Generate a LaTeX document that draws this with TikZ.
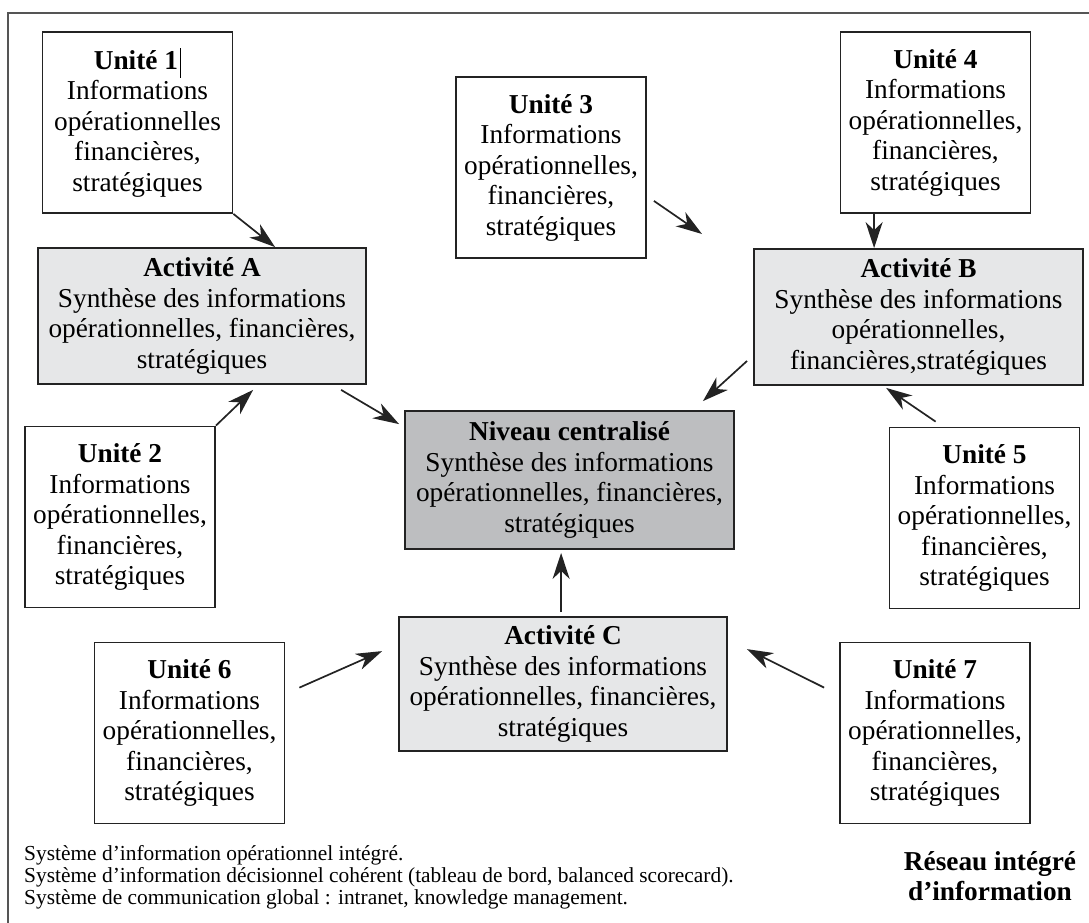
\documentclass[tikz,border=0pt]{standalone}
\usepackage{fontspec}
\setmainfont{Liberation Serif}
\usetikzlibrary{arrows.meta}
\definecolor{actfill}{RGB}{230,231,232}
\definecolor{ctrfill}{RGB}{189,190,192}
\definecolor{edgecol}{RGB}{35,35,35}
\definecolor{framecol}{RGB}{85,85,85}
\begin{document}
\begin{tikzpicture}[x=1pt,y=-1pt,
  box/.style={draw=edgecol, line width=1.8pt, align=center, inner sep=0pt,
    font=\fontsize{27.3}{30.5}\selectfont, text=black},
  unitbox/.style={box, fill=white, minimum width=190pt, minimum height=181pt},
  actbox/.style={box, fill=actfill, minimum width=328pt, minimum height=136pt},
  ctrbox/.style={box, fill=ctrfill, minimum width=329pt, minimum height=138pt},
  arr/.style={draw=edgecol, line width=1.7pt,
    -{Stealth[length=26pt,width=17pt,inset=8pt]}},
  legendline/.style={anchor=base west, inner sep=0pt, font=\fontsize{21.4}{22.5}\selectfont},
  titleline/.style={anchor=base, inner sep=0pt, font=\bfseries\fontsize{27.3}{30}\selectfont}
]
\clip (0,0) rectangle (1089,922);
% outer frame (runs off the right and bottom edges)
\draw[framecol, line width=2pt] (8,13) rectangle (1120,960);

% units
\node[unitbox] (u1) at (137.5,122.5) {\textbf{Unité 1}\kern2pt\rule[-0.3em]{1.2pt}{1.1em}\\Informations\\opérationnelles\\financières,\\stratégiques};
\node[unitbox] (u3) at (551,167.5) {\textbf{Unité 3}\\Informations\\opérationnelles,\\financières,\\stratégiques};
\node[unitbox] (u4) at (935.5,122.5) {\textbf{Unité 4}\\Informations\\opérationnelles,\\financières,\\stratégiques};
\node[unitbox] (u2) at (120,517) {\textbf{Unité 2}\\Informations\\opérationnelles,\\financières,\\stratégiques};
\node[unitbox] (u5) at (984.5,518) {\textbf{Unité 5}\\Informations\\opérationnelles,\\financières,\\stratégiques};
\node[unitbox] (u6) at (189.5,733) {\textbf{Unité 6}\\Informations\\opérationnelles,\\financières,\\stratégiques};
\node[unitbox] (u7) at (935,733) {\textbf{Unité 7}\\Informations\\opérationnelles,\\financières,\\stratégiques};

% activities
\node[actbox] (a) at (202,316) {\textbf{Activité A}\\Synthèse des informations\\opérationnelles, financières,\\stratégiques};
\node[actbox, minimum width=329pt] (b) at (918.5,317) {\textbf{Activité B}\\Synthèse des informations\\opérationnelles,\\financières,stratégiques};
\node[actbox, minimum height=134pt] (c) at (563,684) {\textbf{Activité C}\\Synthèse des informations\\opérationnelles, financières,\\stratégiques};

% central level
\node[ctrbox] (n) at (569.5,480) {\textbf{Niveau centralisé}\\Synthèse des informations\\opérationnelles, financières,\\stratégiques};

% connectors
\draw[arr] (u1.south east) -- ([xshift=238pt]a.north west);
\coordinate (u3tip) at (702,234);
\draw[arr] ([xshift=7pt,yshift=58pt]u3.south east) -- (u3tip);
\coordinate (bin) at ([xshift=121pt]b.north west);
\draw[arr] (bin |- u4.south) -- (bin);
\draw[arr] ([xshift=304pt,yshift=-5pt]a.south west) -- ([xshift=-5pt,yshift=-14pt]n.north west);
\draw[arr] (u2.north east) -- ([xshift=216pt,yshift=-5pt]a.south west);
\draw[arr] ([xshift=-6pt,yshift=25pt]b.south west) -- ([xshift=-32pt,yshift=9pt]n.north east);
\draw[arr] ([xshift=47pt,yshift=5pt]u5.north west) -- ([xshift=133pt,yshift=-2pt]b.south west);
\coordinate (cout) at ([xshift=163pt,yshift=4pt]c.north west);
\coordinate (nin) at ([yshift=-3pt]n.south);
\draw[arr] (cout) -- (cout |- nin);
\draw[arr] ([xshift=14pt,yshift=-46pt]u6.north east) -- ([xshift=-16pt,yshift=-35pt]c.north west);
\draw[arr] ([xshift=-15pt,yshift=-46pt]u7.north west) -- ([xshift=19pt,yshift=-33pt]c.north east);

% legend, one line per node on its own baseline
\node[legendline] (leg1) at (24,860) {Système d’information opérationnel intégré.};
\node[legendline] (leg2) at (24,882) {Système d’information décisionnel cohérent (tableau de bord, balanced scorecard).};
\node[legendline] (leg3) at (24,904) {Système de communication global : intranet, knowledge management.};
\node[titleline] (title1) at (990,870) {Réseau intégré};
\node[titleline] (title2) at (990,900) {d’information};
\end{tikzpicture}
\end{document}
